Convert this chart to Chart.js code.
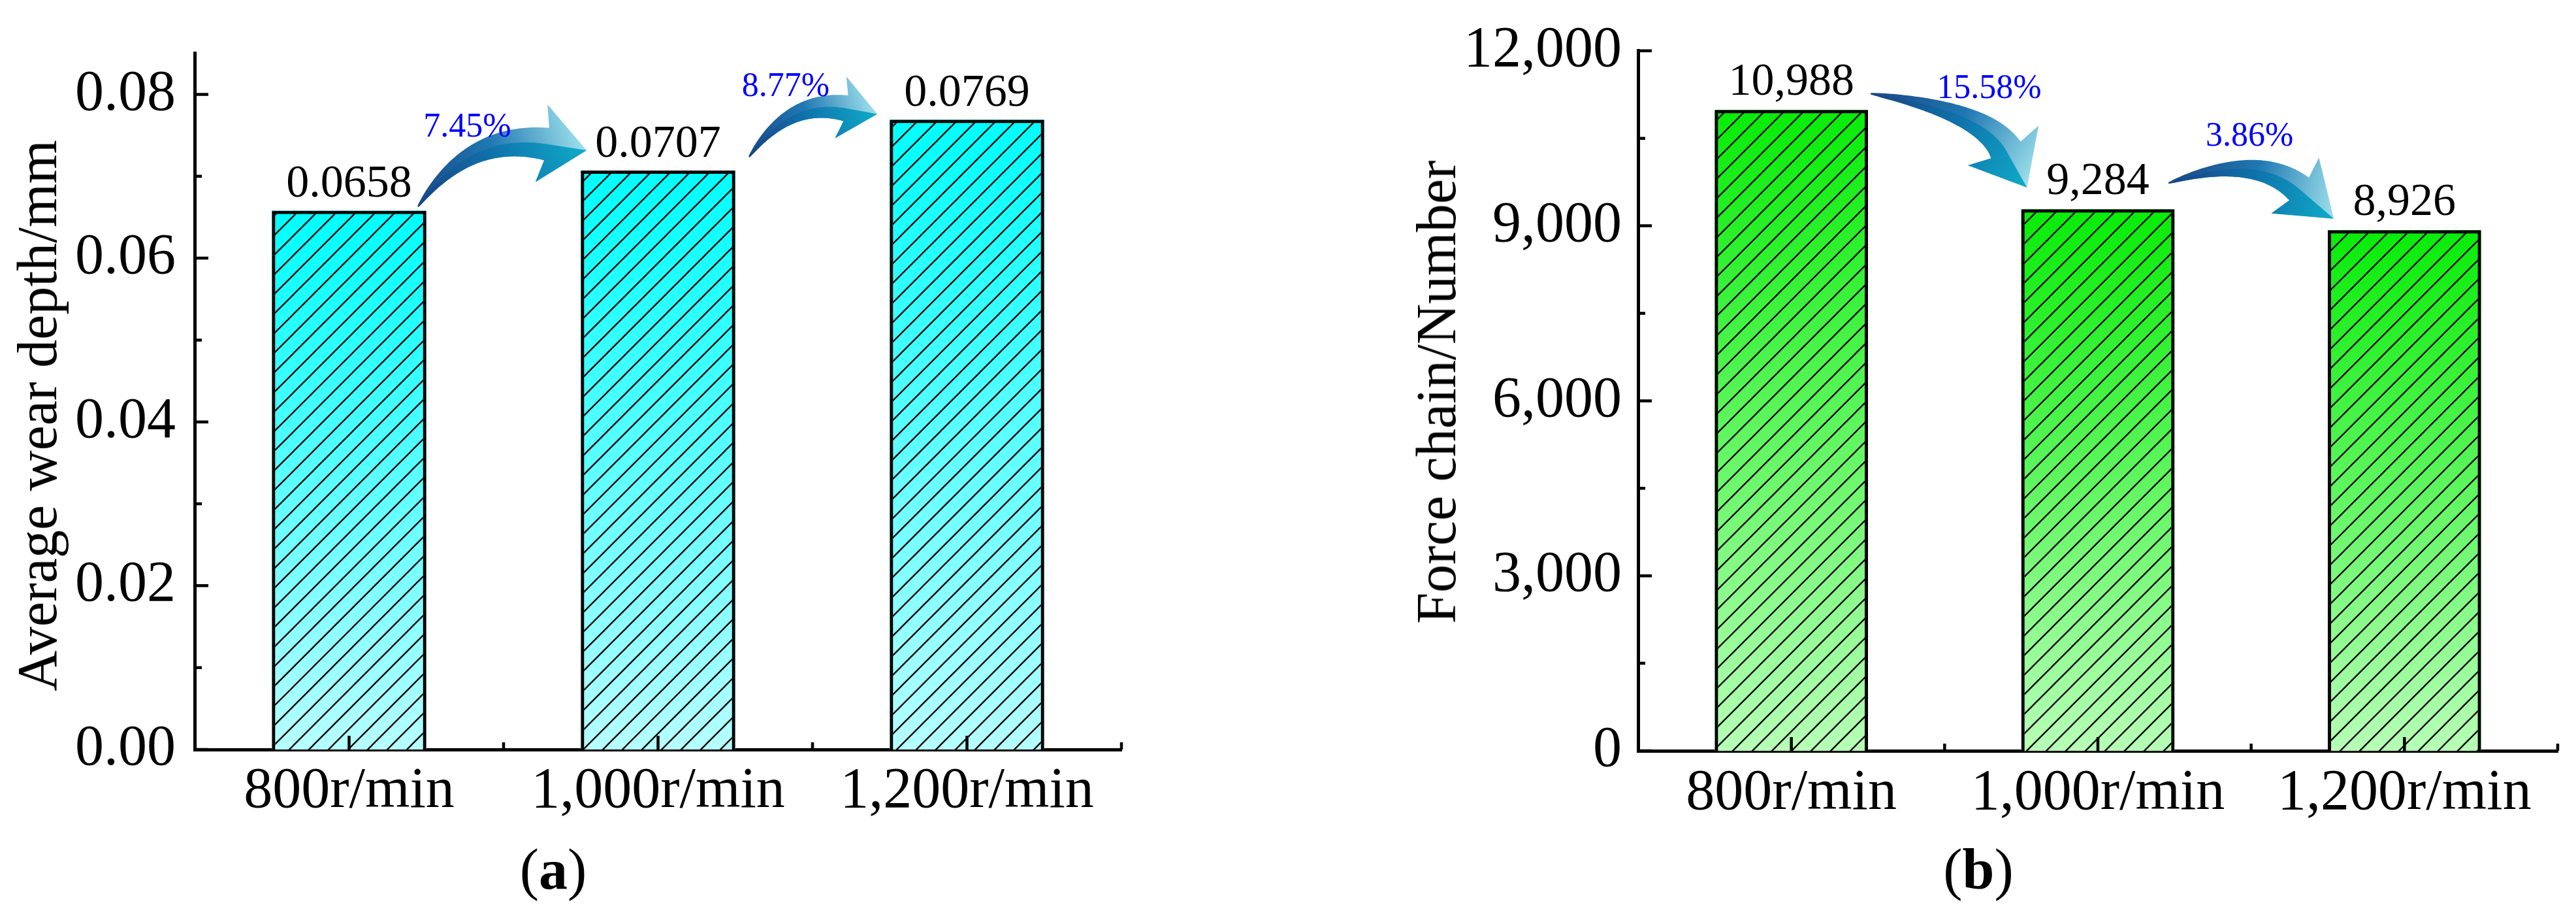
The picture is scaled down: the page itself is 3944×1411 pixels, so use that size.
<!DOCTYPE html>
<html><head><meta charset="utf-8">
<script src="https://cdn.jsdelivr.net/npm/chart.js@4.4.1/dist/chart.umd.min.js"></script>
<style>
html,body{margin:0;padding:0;background:#fff;}
body{width:3944px;height:1411px;position:relative;overflow:hidden;font-family:"Liberation Serif","Times New Roman",serif;color:#000;}
.panel{position:absolute;top:0;width:1972px;height:1411px;}
.ytitle{position:absolute;font-size:86px;line-height:86px;white-space:nowrap;transform:translate(-50%,-50%) rotate(-90deg);}
.cap{position:absolute;top:1287px;font-size:88px;line-height:88px;transform:translateX(-50%);white-space:nowrap;}
</style></head><body>
<div class="panel" style="left:0"><canvas id="wear" width="1972" height="1411" style="width:1972px;height:1411px"></canvas></div>
<div class="panel" style="left:1972px"><canvas id="force" width="1972" height="1411" style="width:1972px;height:1411px"></canvas></div>
<div class="ytitle" style="left:57px;top:636px">Average wear depth/mm</div>
<div class="ytitle" style="left:2199px;top:600px">Force chain/Number</div>
<div class="cap" style="left:847px">(<b>a</b>)</div>
<div class="cap" style="left:3029px">(<b>b</b>)</div>
<script>
// ---- data ----
const categories = ['800r/min', '1,000r/min', '1,200r/min'];
const wearDepth = [0.0658, 0.0707, 0.0769];
const forceChain = [10988, 9284, 8926];
const wearTicks = [0, 0.02, 0.04, 0.06, 0.08];
const forceTicks = [0, 3000, 6000, 9000, 12000];
const wearChange = ['7.45%', '8.77%'];
const forceChange = ['15.58%', '3.86%'];

const FONT = 'Liberation Serif';
Chart.defaults.font.family = FONT;
Chart.defaults.color = '#000';

function makeHatch(ctx) {
  const s = 30;
  const c = document.createElement('canvas');
  c.width = s; c.height = s;
  const g = c.getContext('2d');
  g.strokeStyle = '#000';
  g.lineWidth = 2.3;
  g.beginPath();
  g.moveTo(0, s); g.lineTo(s, 0);
  g.moveTo(-6, 6); g.lineTo(6, -6);
  g.moveTo(s - 6, s + 6); g.lineTo(s + 6, s - 6);
  g.stroke();
  return ctx.createPattern(c, 'repeat');
}

function gradientFill(top, bottom) {
  return (c) => {
    if (c.type !== 'data') return top;
    const ch = c.chart, y = ch.scales && ch.scales.y;
    if (!y) return top;
    const y0 = y.getPixelForValue(c.raw), y1 = y.getPixelForValue(0);
    if (!isFinite(y0) || !isFinite(y1) || y0 === y1) return top;
    const g = ch.ctx.createLinearGradient(0, y0, 0, y1);
    g.addColorStop(0, top);
    g.addColorStop(1, bottom);
    return g;
  };
}

function drawArrow(ctx, T, C, B, L, headHalf, bodyHalf) {
  const N = 60, edgeA = [], edgeB = [], mid = [];
  for (let k = 0; k <= N; k++) {
    const t = k / N, m = 1 - t;
    const px = m * m * T.x + 2 * m * t * C.x + t * t * B.x;
    const py = m * m * T.y + 2 * m * t * C.y + t * t * B.y;
    const dx = 2 * m * (C.x - T.x) + 2 * t * (B.x - C.x);
    const dy = 2 * m * (C.y - T.y) + 2 * t * (B.y - C.y);
    const len = Math.hypot(dx, dy) || 1;
    const nx = -dy / len, ny = dx / len;
    const w = 1 + (bodyHalf - 1) * Math.pow(t, 0.8);
    edgeA.push([px + nx * w, py + ny * w]);
    edgeB.push([px - nx * w, py - ny * w]);
    mid.push([px, py]);
  }
  const dx = B.x - C.x, dy = B.y - C.y, len = Math.hypot(dx, dy) || 1;
  const ux = dx / len, uy = dy / len, nx = -uy, ny = ux;
  const tip = [B.x + ux * L, B.y + uy * L];
  const barbA = [B.x + nx * headHalf - ux * 8, B.y + ny * headHalf - uy * 8];
  const barbB = [B.x - nx * headHalf - ux * 8, B.y - ny * headHalf - uy * 8];

  // whole arrow: dark navy to light cyan
  const g = ctx.createLinearGradient(T.x, T.y, tip[0], tip[1]);
  g.addColorStop(0, '#1a4786');
  g.addColorStop(0.5, '#1f78b2');
  g.addColorStop(1, '#9ee0ec');
  ctx.beginPath();
  ctx.moveTo(edgeA[0][0], edgeA[0][1]);
  edgeA.forEach(p => ctx.lineTo(p[0], p[1]));
  ctx.lineTo(barbA[0], barbA[1]);
  ctx.lineTo(tip[0], tip[1]);
  ctx.lineTo(barbB[0], barbB[1]);
  for (let k = edgeB.length - 1; k >= 0; k--) ctx.lineTo(edgeB[k][0], edgeB[k][1]);
  ctx.closePath();
  ctx.fillStyle = g;
  ctx.fill();

  // concave-side band: navy to teal
  const g2 = ctx.createLinearGradient(T.x, T.y, tip[0], tip[1]);
  g2.addColorStop(0, 'rgba(22,66,130,0.9)');
  g2.addColorStop(0.55, 'rgba(12,120,175,0.9)');
  g2.addColorStop(1, 'rgba(0,165,195,0.9)');
  ctx.beginPath();
  ctx.moveTo(edgeA[0][0], edgeA[0][1]);
  edgeA.forEach(p => ctx.lineTo(p[0], p[1]));
  ctx.lineTo(barbA[0], barbA[1]);
  ctx.lineTo(tip[0], tip[1]);
  ctx.lineTo(B.x, B.y);
  for (let k = mid.length - 1; k >= 0; k--) ctx.lineTo(mid[k][0], mid[k][1]);
  ctx.closePath();
  ctx.fillStyle = g2;
  ctx.fill();
}

function tickPlugin(cfg) {
  return {
    id: 'inTicks',
    afterDatasetsDraw(chart) {
      const { ctx, chartArea: a, scales: { x, y } } = chart;
      ctx.save();
      ctx.strokeStyle = '#000';
      ctx.lineWidth = 4.5;
      ctx.beginPath();
      cfg.ticks.forEach((v, i) => {
        const py = y.getPixelForValue(v);
        ctx.moveTo(a.left, py); ctx.lineTo(a.left + 21, py);
        if (i < cfg.ticks.length - 1) {
          const pm = y.getPixelForValue((v + cfg.ticks[i + 1]) / 2);
          ctx.moveTo(a.left, pm); ctx.lineTo(a.left + 11, pm);
        }
      });
      categories.forEach((c, i) => {
        const px = x.getPixelForValue(i);
        ctx.moveTo(px, a.bottom); ctx.lineTo(px, a.bottom - 21);
        const pb = x.getPixelForValue(i + 0.5);
        ctx.moveTo(pb, a.bottom); ctx.lineTo(pb, a.bottom - 11);
      });
      ctx.stroke();
      ctx.restore();
    }
  };
}

function annotPlugin(cfg) {
  return {
    id: 'annot',
    afterDraw(chart) {
      const { ctx, scales: { x, y } } = chart;
      const P = (q) => ({ x: x.getPixelForValue(q[0]), y: y.getPixelForValue(q[1]) });
      const meta = chart.getDatasetMeta(1);
      ctx.save();
      cfg.arrows.forEach(a => drawArrow(ctx, P(a.tail), P(a.ctrl), P(a.base), a.head, a.headHalf, a.body));
      ctx.fillStyle = '#000';
      ctx.font = '70px "' + FONT + '"';
      ctx.textAlign = 'center';
      ctx.textBaseline = 'alphabetic';
      meta.data.forEach((bar, i) => {
        ctx.fillText(cfg.fmtValue(cfg.values[i]), bar.x, bar.y - cfg.labelGap);
      });
      ctx.fillStyle = '#0000ff';
      ctx.font = '52px "' + FONT + '"';
      cfg.changes.forEach((t, k) => {
        const p = P(cfg.changeAt[k]);
        ctx.fillText(t, p.x, p.y);
      });
      ctx.restore();
    }
  };
}

function build(id, cfg) {
  const canvas = document.getElementById(id);
  const ctx = canvas.getContext('2d');
  const hatch = makeHatch(ctx);
  const common = { grouped: false, barPercentage: 0.5, categoryPercentage: 1 };
  return new Chart(ctx, {
    type: 'bar',
    data: {
      labels: categories,
      datasets: [
        Object.assign({ data: cfg.values, backgroundColor: gradientFill(cfg.top, cfg.bottom), borderWidth: 0, order: 2 }, common),
        Object.assign({ data: cfg.values, backgroundColor: hatch, borderColor: '#000', borderWidth: 5, order: 1 }, common)
      ]
    },
    options: {
      responsive: false,
      animation: false,
      devicePixelRatio: 1,
      events: [],
      layout: { padding: cfg.padding },
      plugins: { legend: { display: false }, tooltip: { enabled: false } },
      scales: {
        x: {
          type: 'category', offset: true, z: 1,
          grid: { display: false, drawTicks: false },
          border: { display: true, color: '#000', width: 5 },
          ticks: { font: { size: 88, family: FONT }, color: '#000', padding: cfg.xPad, autoSkip: false, maxRotation: 0, minRotation: 0 },
          afterFit: (s) => { s.height = cfg.xHeight; }
        },
        y: {
          type: 'linear', min: 0, max: cfg.max, z: 1,
          grid: { display: false, drawTicks: false },
          border: { display: true, color: '#000', width: 5 },
          ticks: { font: { size: 88, family: FONT }, color: '#000', padding: cfg.yPad, callback: (v) => cfg.fmtTick(v) },
          afterBuildTicks: (s) => { s.ticks = cfg.ticks.map(v => ({ value: v })); },
          afterFit: (s) => { s.width = cfg.yWidth; }
        }
      }
    },
    plugins: [tickPlugin(cfg), annotPlugin(cfg)]
  });
}

build('wear', {
  values: wearDepth, ticks: wearTicks, max: 0.085,
  top: '#00ffff', bottom: '#b6ffff',
  padding: { left: 0, top: 53, right: 255, bottom: 0 },
  yWidth: 298, xHeight: 264, xPad: 12, yPad: 29,
  fmtTick: (v) => Number(v).toFixed(2),
  fmtValue: (v) => v.toFixed(4),
  labelGap: 21,
  changes: wearChange,
  changeAt: [[0.3827, 0.07486], [1.4133, 0.07977]],
  arrows: [
    { tail: [0.2230, 0.06630], ctrl: [0.3879, 0.07541], base: [0.6395, 0.07393], head: 62, headHalf: 60, body: 25 },
    { tail: [1.2949, 0.07237], ctrl: [1.4249, 0.07956], base: [1.6078, 0.07830], head: 49, headHalf: 48, body: 20 }
  ]
});

build('force', {
  values: forceChain, ticks: forceTicks, max: 12000,
  top: '#08ec08', bottom: '#b6ffb6',
  padding: { left: 0, top: 69, right: 28, bottom: 0 },
  yWidth: 536, xHeight: 262, xPad: 13, yPad: 25,
  fmtTick: (v) => Number(v).toLocaleString('en-US'),
  fmtValue: (v) => v.toLocaleString('en-US'),
  labelGap: 23,
  changes: forceChange,
  changeAt: [[0.6453, 11189], [1.4945, 10378]],
  arrows: [
    { tail: [0.2586, 11267], ctrl: [0.6272, 10978], base: [0.6997, 10300], head: 66, headHalf: 62, body: 26 },
    { tail: [1.2302, 9733], ctrl: [1.5157, 10267], base: [1.6564, 9633], head: 70, headHalf: 56, body: 23 }
  ]
});
</script>
</body></html>
